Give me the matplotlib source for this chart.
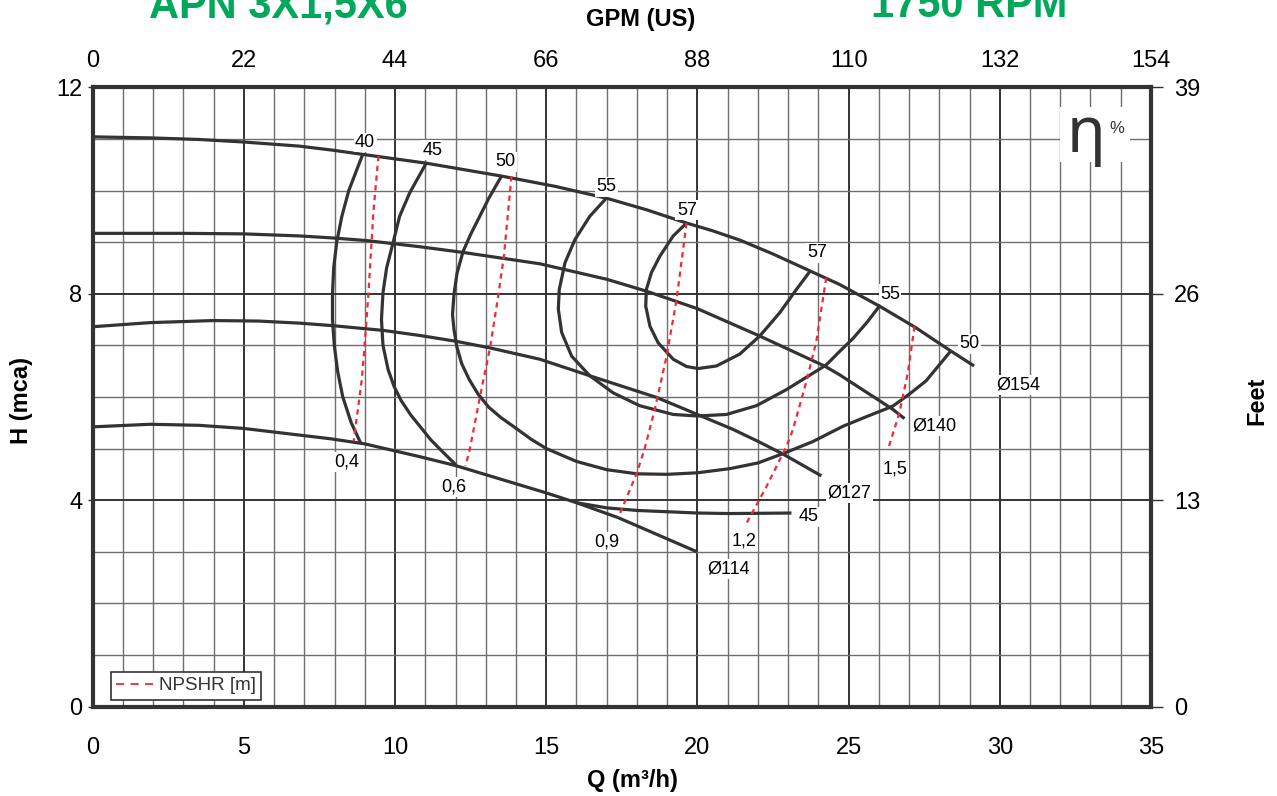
import numpy as np
import matplotlib
matplotlib.use("Agg")
import matplotlib.pyplot as plt
from matplotlib.lines import Line2D
from matplotlib.patches import Rectangle

plt.rcParams['font.family'] = ['Liberation Sans', 'DejaVu Sans']

# head curves per impeller diameter, Q (m3/h) vs H (mca)
q_d154 = [0, 1.9, 3.5, 5.0, 6.84, 7.96, 8.93, 11.03, 13.52, 15.3, 17.0, 18.3, 19.64, 20.5, 21.4, 22.5,
          23.73, 24.7, 26.02, 27.2, 28.38, 29.15]
h_d154 = [11.04, 11.02, 10.99, 10.94, 10.86, 10.78, 10.70, 10.53, 10.28, 10.08, 9.85, 9.63, 9.37, 9.22,
          9.04, 8.77, 8.44, 8.18, 7.76, 7.35, 6.89, 6.60]

q_d140 = [0, 3.0, 4.98, 6.84, 7.96, 9.06, 10.83, 12.25, 14.79, 17.0, 18.31, 20.0, 22.06, 24.2, 24.7,
          26.46, 26.85]
h_d140 = [9.17, 9.17, 9.16, 9.12, 9.08, 9.03, 8.91, 8.80, 8.58, 8.28, 8.05, 7.71, 7.18, 6.60, 6.43,
          5.76, 5.58]

q_d127 = [0, 1.9, 3.99, 5.5, 6.84, 7.96, 9.6, 10.83, 12.0, 13.14, 14.79, 16.44, 18.65, 20.0, 21.18,
          22.0, 22.84, 24.1]
h_d127 = [7.36, 7.44, 7.48, 7.47, 7.43, 7.38, 7.29, 7.19, 7.08, 6.95, 6.73, 6.41, 5.99, 5.66, 5.37,
          5.14, 4.89, 4.47]

q_d114 = [0, 1.9, 3.5, 4.98, 7.85, 9.0, 10.83, 12.0, 15.0, 16.0, 17.38, 19.98]
h_d114 = [5.42, 5.47, 5.45, 5.39, 5.19, 5.09, 4.84, 4.67, 4.14, 3.95, 3.66, 3.0]

# iso-efficiency curves (%)
q_eff40 = [8.93, 8.47, 8.24, 8.07, 7.97, 7.93, 7.93, 7.99, 8.1, 8.27, 8.55, 8.86]
h_eff40 = [10.70, 10.0, 9.5, 9.0, 8.5, 8.0, 7.5, 7.0, 6.5, 6.0, 5.5, 5.11]

q_eff45 = [11.03, 10.48, 10.15, 9.93, 9.72, 9.6, 9.55, 9.6, 9.77, 9.97, 10.2, 10.52, 11.18, 11.6, 12.0]
h_eff45 = [10.53, 9.95, 9.5, 8.98, 8.5, 8.02, 7.5, 7.0, 6.53, 6.2, 5.93, 5.65, 5.17, 4.92, 4.69]

q_eff50 = [13.52, 13.1, 12.8, 12.5, 12.25, 12.05, 11.95, 11.9, 11.95, 12.04, 12.2, 12.45, 12.75, 13.1,
           13.5, 13.91, 14.5, 15.0, 16.0, 17.0, 18.0, 19.0, 20.0, 21.07, 22.0, 22.78, 23.8, 24.81,
           25.6, 26.46, 27.0, 27.56, 28.38]
h_eff50 = [10.28, 9.85, 9.5, 9.15, 8.82, 8.4, 8.0, 7.6, 7.3, 6.98, 6.65, 6.34, 6.05, 5.8,
           5.6, 5.43, 5.18, 5.0, 4.75, 4.59, 4.51, 4.50, 4.53, 4.61, 4.72, 4.89, 5.13, 5.43,
           5.62, 5.82, 6.05, 6.31, 6.89]

q_eff55 = [17.0, 16.44, 15.95, 15.62, 15.43, 15.40, 15.51, 15.84, 16.44, 17.21, 18.09, 19.2, 20.0,
           20.96, 21.95, 22.94, 23.6, 24.26, 24.7, 25.14, 25.6, 26.02]
h_eff55 = [9.86, 9.50, 9.05, 8.60, 8.08, 7.70, 7.25, 6.79, 6.41, 6.08, 5.83, 5.66, 5.63,
           5.66, 5.83, 6.14, 6.38, 6.62, 6.88, 7.13, 7.44, 7.76]

q_eff57 = [19.64, 19.2, 18.76, 18.48, 18.31, 18.29, 18.43, 18.7, 19.2, 19.64, 20.02, 20.63, 21.4,
           22.06, 22.72, 23.27, 23.73]
h_eff57 = [9.37, 9.12, 8.73, 8.41, 8.08, 7.76, 7.37, 7.05, 6.73, 6.59, 6.55, 6.60, 6.83,
           7.18, 7.63, 8.08, 8.44]

q_eff45b = [16.0, 17.0, 18.0, 20.0, 21.07, 23.11]
h_eff45b = [3.95, 3.85, 3.80, 3.75, 3.74, 3.75]

# NPSHR lines (m)
q_npsh04 = [9.45, 9.28, 9.12, 8.98, 8.9, 8.63]
h_npsh04 = [10.67, 9.56, 8.01, 6.9, 6.34, 5.14]
q_npsh06 = [13.85, 13.60, 13.41, 13.14, 12.81, 12.48, 12.33]
h_npsh06 = [10.28, 8.73, 7.95, 6.95, 6.01, 5.01, 4.66]
q_npsh09 = [19.64, 19.31, 18.98, 18.59, 18.26, 18.0, 17.38]
h_npsh09 = [9.37, 7.89, 6.79, 5.76, 5.01, 4.53, 3.66]
q_npsh12 = [24.26, 23.93, 23.6, 23.16, 22.95, 22.29, 21.63]
h_npsh12 = [8.31, 7.07, 6.29, 5.37, 5.05, 4.27, 3.56]
q_npsh15 = [27.18, 26.96, 26.68, 26.30]
h_npsh15 = [7.37, 6.47, 5.69, 4.98]

# curve labels
label_text = ["40", "45", "50", "55", "57", "57", "55", "50", "45",
              "Ø154", "Ø140", "Ø127", "Ø114",
              "0,4", "0,6", "0,9", "1,2", "1,5"]
label_q = [9.01, 11.25, 13.64, 16.98, 19.65, 23.97, 26.37, 29.0, 23.67,
           30.61, 27.83, 25.03, 21.03,
           8.40, 11.94, 17.0, 21.54, 26.54]
label_h = [10.93, 10.78, 10.56, 10.07, 9.62, 8.79, 7.99, 7.03, 3.68,
           6.23, 5.44, 4.13, 2.66,
           4.74, 4.26, 3.19, 3.21, 4.60]

q_ticks = [0, 5, 10, 15, 20, 25, 30, 35]
h_ticks = [0, 4, 8, 12]
gpm_ticks = [0, 22, 44, 66, 88, 110, 132, 154]
feet_ticks = [0, 13, 26, 39]

dark = "#333333"
green = "#00a859"
red = "#ee2b36"

fig = plt.figure(figsize=(12.77, 7.96), dpi=100)
ax = fig.add_axes([0.0726, 0.1124, 0.9013 - 0.0726, 0.8903 - 0.1124])

ax.set_xlim(0, 35)
ax.set_ylim(0, 12)
ax.set_xticks(q_ticks)
ax.set_yticks(h_ticks)
ax.set_xticks(np.arange(0, 36, 1), minor=True)
ax.set_yticks(np.arange(0, 13, 1), minor=True)
ax.set_axisbelow(True)
ax.grid(which="major", color="#333333", lw=1.4)
ax.grid(which="minor", color="#6e6e6e", lw=1.0)
ax.tick_params(axis="x", which="both", length=0, pad=22, labelsize=17, labelcolor="black")
ax.tick_params(axis="y", which="major", length=3.6, width=1, color=dark, pad=4, labelsize=17)
ax.tick_params(axis="y", which="minor", length=0)
for s in ax.spines.values():
    s.set_linewidth(3)
    s.set_color(dark)

for q, h in [(q_d154, h_d154), (q_d140, h_d140), (q_d127, h_d127), (q_d114, h_d114),
             (q_eff40, h_eff40), (q_eff45, h_eff45), (q_eff50, h_eff50), (q_eff55, h_eff55),
             (q_eff57, h_eff57), (q_eff45b, h_eff45b)]:
    ax.plot(q, h, color=dark, lw=2.3, solid_capstyle="butt", solid_joinstyle="round", zorder=3)

for q, h in [(q_npsh04, h_npsh04), (q_npsh06, h_npsh06), (q_npsh09, h_npsh09),
             (q_npsh12, h_npsh12), (q_npsh15, h_npsh15)]:
    ax.plot(q, h, color=red, lw=1.6, ls=(0, (2.4, 2.0)), zorder=3.5)

for t, q, h in zip(label_text, label_q, label_h):
    ax.text(q, h, t, ha="center", va="center", fontsize=13, color="black", zorder=4,
            bbox=dict(facecolor="white", edgecolor="none", pad=1.0))

# eta box
ax.add_patch(Rectangle((32.0, 10.55), 2.31, 1.07, facecolor="white", edgecolor="none", zorder=2))
ax.text(32.85, 11.08, "η", ha="center", va="center", fontsize=46, color=dark, zorder=4,
        family=["Noto Sans", "DejaVu Sans"], fontweight=300)
ax.text(33.88, 11.21, "%", ha="center", va="center", fontsize=12, color=dark, zorder=4)

leg = ax.legend([Line2D([0], [0], color=red, lw=1.3, ls=(0, (4.5, 3.5)))], ["NPSHR [m]"],
                loc="lower left", bbox_to_anchor=(0.017, 0.0105), borderaxespad=0, fontsize=13.5,
                fancybox=False, edgecolor=dark, handlelength=2.0, handletextpad=0.25,
                borderpad=0.3, framealpha=1)
leg.get_frame().set_linewidth(1.2)
for t in leg.get_texts():
    t.set_color(dark)

top = ax.secondary_xaxis("top", functions=(lambda x: x * 4.4, lambda g: g / 4.4))
top.set_xticks(gpm_ticks)
top.tick_params(length=0, pad=11, labelsize=17)
top.spines["top"].set_visible(False)

right = ax.secondary_yaxis("right", functions=(lambda h: h * 3.25, lambda f: f / 3.25))
right.set_yticks(feet_ticks)
right.tick_params(length=8.6, width=1, color=dark, pad=8, labelsize=17)
right.spines["right"].set_visible(False)

fig.text(0.218, 0.9786, "APN 3X1,5X6", ha="center", va="baseline", fontsize=30,
         fontweight="bold", color=green)
fig.text(0.759, 0.9786, "1750 RPM", ha="center", va="baseline", fontsize=30,
         fontweight="bold", color=green)
fig.text(0.502, 0.976, "GPM (US)", ha="center", va="center", fontsize=17, fontweight="bold")
fig.text(0.495, 0.019, "Q (m³/h)", ha="center", va="center", fontsize=17, fontweight="bold")
fig.text(0.017, 0.497, "H (mca)", ha="center", va="center", rotation=90, fontsize=17,
         fontweight="bold")
fig.text(0.984, 0.496, "Feet", ha="center", va="center", rotation=90, fontsize=17,
         fontweight="bold")

fig.savefig("out.png", dpi=100)
